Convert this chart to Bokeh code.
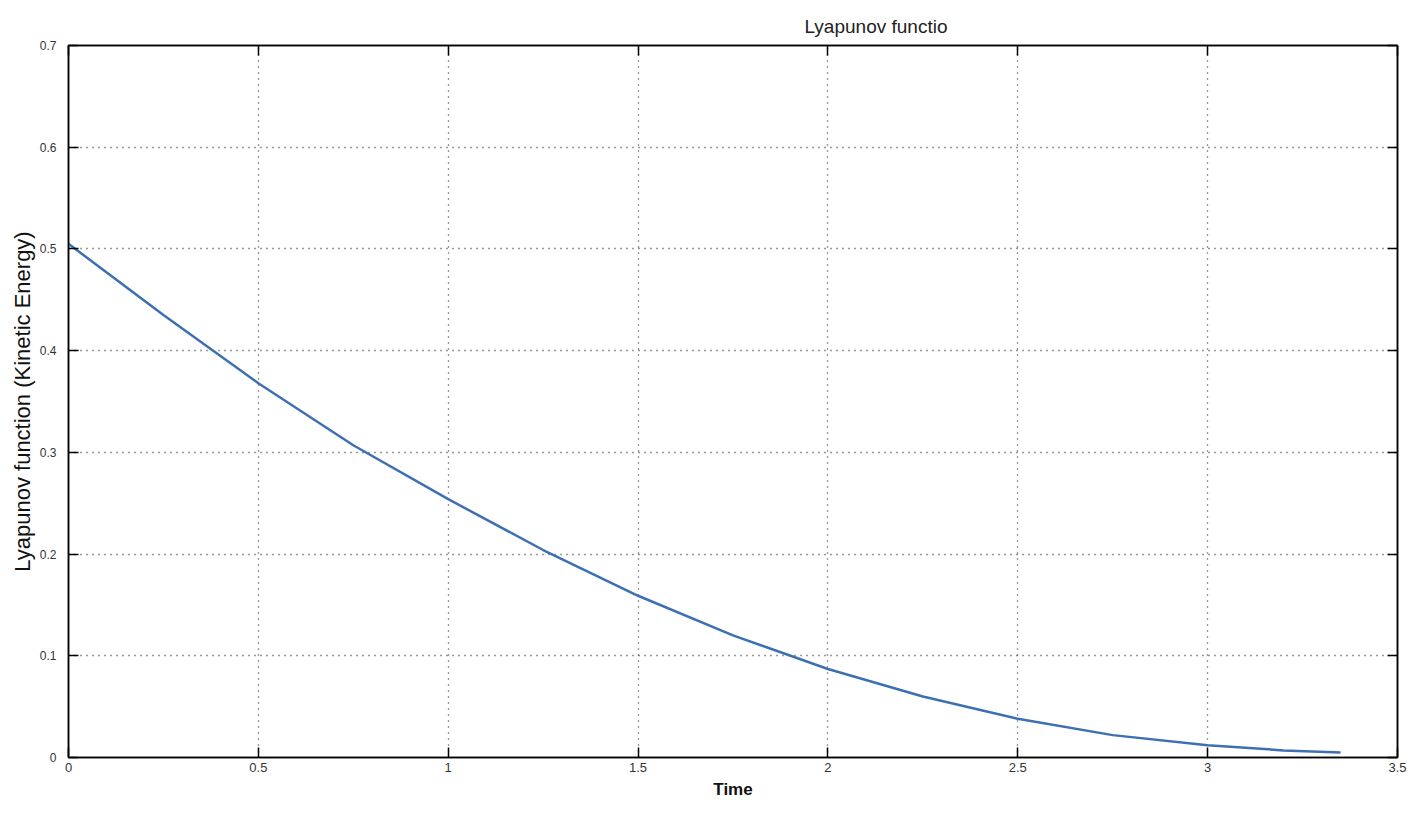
from bokeh.plotting import figure
from bokeh.models import Range1d, FixedTicker, LinearAxis, Title, CustomLabelingPolicy
from bokeh.embed import file_html
from bokeh.resources import INLINE

# Data
time = [0.0, 0.25, 0.5, 0.75, 1.0, 1.25, 1.5, 1.75, 2.0, 2.25, 2.5, 2.75, 3.0, 3.2, 3.35]
energy = [0.505, 0.435, 0.368, 0.307, 0.254, 0.204, 0.159, 0.120, 0.087, 0.060, 0.038, 0.022, 0.012, 0.007, 0.005]

x_ticks = [0, 0.5, 1, 1.5, 2, 2.5, 3, 3.5]
x_tick_labels = ["0", "0.5", "1", "1.5", "2", "2.5", "3", "3.5"]
y_ticks = [0, 0.1, 0.2, 0.3, 0.4, 0.5, 0.6, 0.7]
y_tick_labels = ["0", "0.1", "0.2", "0.3", "0.4", "0.5", "0.6", "0.7"]

FONT = "Liberation Sans"

p = figure(width=1415, height=805, output_backend="svg", toolbar_location=None,
           x_range=Range1d(0, 3.5), y_range=Range1d(0, 0.7),
           min_border_left=68, min_border_right=5, min_border_top=45, min_border_bottom=48)

p.line(time, energy, line_color="#3d70b3", line_width=2.5)

p.xaxis.ticker = FixedTicker(ticks=x_ticks)
p.yaxis.ticker = FixedTicker(ticks=y_ticks)
p.xaxis.major_label_overrides = {t: l for t, l in zip(x_ticks, x_tick_labels)}
p.yaxis.major_label_overrides = {t: l for t, l in zip(y_ticks, y_tick_labels)}

for ax in (p.xaxis[0], p.yaxis[0]):
    ax.major_tick_in = 10
    ax.major_tick_out = 0
    ax.minor_tick_line_color = None
    ax.axis_line_color = "black"
    ax.axis_line_width = 1.5
    ax.major_tick_line_color = "black"
    ax.major_tick_line_width = 1.5
    ax.major_label_text_font = FONT
    ax.major_label_text_color = "#333333"

p.xaxis.major_label_text_font_size = "13px"
p.yaxis.major_label_text_font_size = "12px"

p.xaxis.axis_label = "Time"
p.xaxis.axis_label_text_font = FONT
p.xaxis.axis_label_text_font_size = "17px"
p.xaxis.axis_label_text_font_style = "bold"
p.xaxis.axis_label_text_color = "#111111"
p.xaxis.axis_label_standoff = 5
p.xaxis.major_label_standoff = 5

p.yaxis.axis_label = "Lyapunov function (Kinetic Energy)"
p.yaxis.axis_label_text_font = FONT
p.yaxis.axis_label_text_font_size = "22px"
p.yaxis.axis_label_text_font_style = "normal"
p.yaxis.axis_label_text_color = "#111111"
p.yaxis.axis_label_standoff = 2
p.yaxis.major_label_standoff = 12

# top and right axes: inward ticks only, no labels
no_labels = CustomLabelingPolicy(code="""
    for (const i of indices) { indices.unset(i) }
    return indices
""")
top = LinearAxis(ticker=FixedTicker(ticks=x_ticks), major_tick_in=10, major_tick_out=0,
                 minor_tick_line_color=None, major_label_policy=no_labels,
                 axis_line_width=1.5, major_tick_line_width=1.5, major_label_standoff=0)
right = LinearAxis(ticker=FixedTicker(ticks=y_ticks), major_tick_in=10, major_tick_out=0,
                   minor_tick_line_color=None, major_label_policy=no_labels,
                   axis_line_width=1.5, major_tick_line_width=1.5, major_label_standoff=0)
p.add_layout(top, "above")
p.add_layout(right, "right")

p.add_layout(Title(text="Lyapunov functio", align="left", offset=736, standoff=-4,
                   text_font=FONT, text_font_size="19px", text_font_style="normal",
                   text_color="#222222"), "above")

for g in (p.xgrid[0], p.ygrid[0]):
    g.grid_line_color = "#333333"
    g.grid_line_dash = "1 5"
    g.grid_line_width = 1.3

p.outline_line_color = "black"
p.outline_line_width = 1.5
p.background_fill_color = "white"
p.border_fill_color = "white"

open("out.html", "w").write(file_html(p, INLINE))
